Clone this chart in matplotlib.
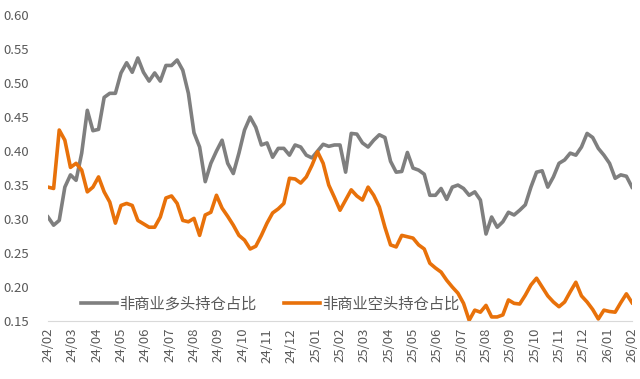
import matplotlib
matplotlib.use("Agg")
import matplotlib.pyplot as plt
import numpy as np

plt.rcParams['font.family'] = ['Noto Sans CJK SC', 'DejaVu Sans']

# 周度数据 24/02 - 26/02
long_share = [
    .303, .291, .298, .347, .365, .357, .397, .460, .430, .432,
    .479, .485, .485, .515, .530, .516, .537, .516, .503, .515,
    .503, .526, .526, .534, .519, .485, .427, .406, .355, .382,
    .400, .416, .382, .367, .397, .431, .450, .435, .409, .412,
    .391, .404, .404, .394, .409, .406, .394, .390, .400, .410,
    .407, .409, .409, .369, .426, .425, .412, .406, .416, .424,
    .420, .385, .369, .370, .398, .375, .372, .366, .335, .335,
    .345, .329, .347, .350, .345, .335, .340, .328, .278, .303,
    .288, .296, .310, .306, .313, .321, .347, .369, .371, .347,
    .362, .382, .387, .397, .394, .406, .426, .420, .404, .394,
    .382, .360, .365, .363, .347,
]

short_share = [
    .347, .345, .431, .416, .376, .382, .372, .340, .347, .362,
    .340, .325, .294, .320, .323, .320, .298, .293, .288, .288,
    .303, .331, .334, .323, .298, .296, .301, .276, .306, .310,
    .335, .316, .304, .291, .276, .269, .256, .260, .276, .294,
    .309, .315, .323, .360, .359, .353, .362, .379, .399, .382,
    .350, .332, .313, .328, .343, .334, .328, .347, .335, .318,
    .288, .262, .259, .276, .274, .272, .262, .256, .235, .228,
    .222, .210, .200, .191, .176, .151, .166, .163, .173, .156,
    .156, .159, .181, .176, .175, .188, .203, .213, .200, .187,
    .178, .171, .178, .193, .207, .187, .178, .167, .153, .166,
    .164, .163, .177, .190, .177,
]

month_labels = ["24/02", "24/03", "24/04", "24/05", "24/06", "24/07", "24/08",
                "24/09", "24/10", "24/11", "24/12", "25/01", "25/02", "25/03",
                "25/04", "25/05", "25/06", "25/07", "25/08", "25/09", "25/10",
                "25/11", "25/12", "26/01", "26/02"]

x = np.arange(len(long_share))

fig = plt.figure(figsize=(6.4, 3.79), dpi=100)
ax = fig.add_axes([0.075, 0.153, 0.9125, 0.807])

ax.plot(x, long_share, color="#7f7f7f", lw=2.6, label="非商业多头持仓占比")
ax.plot(x, short_share, color="#e8710a", lw=2.6, label="非商业空头持仓占比")

ax.set_xlim(0, len(x) - 1)
ax.set_ylim(0.15, 0.60)
ax.set_yticks(np.arange(0.15, 0.601, 0.05))
ax.yaxis.set_major_formatter(matplotlib.ticker.FormatStrFormatter("%.2f"))
ax.set_xticks(np.linspace(0, len(x) - 1, len(month_labels)))
ax.set_xticklabels(month_labels, rotation=90)

for s in ["top", "right", "left"]:
    ax.spines[s].set_visible(False)
ax.spines["bottom"].set_color("#d9d9d9")
ax.tick_params(axis="both", length=0, colors="#595959", labelsize=9.5)
ax.tick_params(axis="y", pad=14)
ax.tick_params(axis="x", pad=5)

ax.legend(loc="center", bbox_to_anchor=(0.38, 0.055), ncol=2, frameon=False,
          fontsize=11, labelcolor="#595959", handlelength=2.35,
          handletextpad=0.15, columnspacing=1.8)

fig.savefig("out.png", dpi=100)
